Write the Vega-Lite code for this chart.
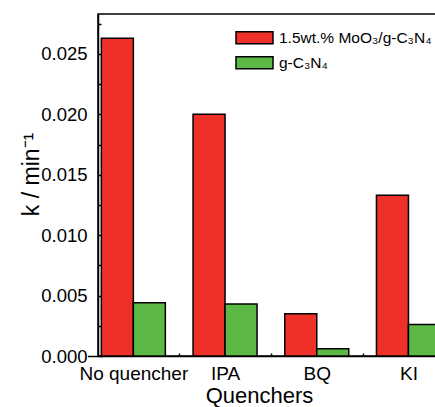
{
  "$schema": "https://vega.github.io/schema/vega-lite/v6.json",
  "width": 338,
  "height": 342,
  "autosize": {"type": "none"},
  "padding": {"left": 98, "top": 14, "right": 0, "bottom": 51},
  "config": {
    "font": "Liberation Sans",
    "view": {"stroke": "black", "strokeWidth": 1.5},
    "axis": {"grid": false, "domainColor": "black", "domainWidth": 1.5, "tickColor": "black", "labelColor": "black", "titleColor": "black", "labelFont": "Liberation Sans", "titleFont": "Liberation Sans", "titleFontWeight": "normal"},
    "legend": {"labelFont": "Liberation Sans"}
  },
  "data": {
    "values": [
      {"quencher": "No quencher", "series": "1.5wt.% MoO₃/g-C₃N₄", "k": 0.0263},
      {"quencher": "No quencher", "series": "g-C₃N₄", "k": 0.0044},
      {"quencher": "IPA", "series": "1.5wt.% MoO₃/g-C₃N₄", "k": 0.0200},
      {"quencher": "IPA", "series": "g-C₃N₄", "k": 0.0043},
      {"quencher": "BQ", "series": "1.5wt.% MoO₃/g-C₃N₄", "k": 0.0035},
      {"quencher": "BQ", "series": "g-C₃N₄", "k": 0.0006},
      {"quencher": "KI", "series": "1.5wt.% MoO₃/g-C₃N₄", "k": 0.0133},
      {"quencher": "KI", "series": "g-C₃N₄", "k": 0.0026}
    ]
  },
  "mark": {"type": "bar", "stroke": "black", "strokeWidth": 1.5, "clip": true},
  "encoding": {
    "x": {
      "field": "quencher",
      "type": "nominal",
      "sort": ["No quencher", "IPA", "BQ", "KI"],
      "scale": {"range": [-10.5, 356.3], "paddingInner": 0, "paddingOuter": 0},
      "axis": {
        "title": "Quenchers",
        "titleFontSize": 22,
        "titleX": 161,
        "titlePadding": 2,
        "labelAngle": 0,
        "labelFontSize": 19,
        "labelPadding": 11,
        "tickSize": -3,
        "tickWidth": 1.5,
        "tickOffset": 45.85,
        "labelOffset": -45.85
      }
    },
    "xOffset": {
      "field": "series",
      "sort": ["1.5wt.% MoO₃/g-C₃N₄", "g-C₃N₄"],
      "scale": {"paddingOuter": 0.433, "paddingInner": 0}
    },
    "y": {
      "field": "k",
      "type": "quantitative",
      "scale": {"domain": [0, 0.0283], "nice": false, "zero": true},
      "axis": {
        "title": "k / min⁻¹",
        "titleFontSize": 23,
        "titleY": 160,
        "titlePadding": -3,
        "labelFontSize": 18.5,
        "labelPadding": 16,
        "values": [0, 0.0025, 0.005, 0.0075, 0.01, 0.0125, 0.015, 0.0175, 0.02, 0.0225, 0.025, 0.0275],
        "labelExpr": "round(datum.value*2000) % 2 == 0 ? format(datum.value, '.3f') : ''",
        "tickSize": {"condition": {"test": "round(datum.value*2000) % 2 == 0", "value": -5}, "value": -3},
        "tickWidth": 1.5
      }
    },
    "color": {
      "field": "series",
      "type": "nominal",
      "scale": {"domain": ["1.5wt.% MoO₃/g-C₃N₄", "g-C₃N₄"], "range": ["#EE3128", "#5DB946"]},
      "legend": {
        "title": null,
        "orient": "none",
        "legendX": 137,
        "legendY": 12.5,
        "padding": 0,
        "symbolType": "M-1,-0.32L1,-0.32L1,0.32L-1,0.32Z",
        "symbolSize": 1369,
        "symbolStrokeColor": "black",
        "symbolStrokeWidth": 1.5,
        "symbolOpacity": 1,
        "labelFontSize": 15.5,
        "labelColor": "black",
        "labelOffset": 5,
        "clipHeight": 22.5,
        "rowPadding": 2,
        "labelLimit": 300
      }
    }
  }
}
